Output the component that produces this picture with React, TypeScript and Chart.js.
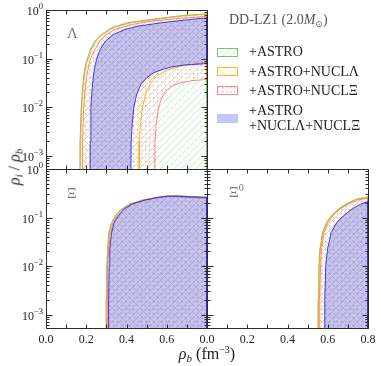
import React, { useEffect, useRef } from 'react';
import { Chart, registerables } from 'chart.js';

Chart.register(...registerables);

const WIDTH = 381;
const HEIGHT = 366;
const X_MIN = 0;
const X_MAX = 0.8;
const Y_MIN = 5.3e-4;
const Y_MAX = 1;
const FLOOR = 1e-5; // stands for "below the plotted range"

// ---- tick definitions ----
const xTicks = [0, 0.1, 0.2, 0.3, 0.4, 0.5, 0.6, 0.7, 0.8];
const xLabelTicks = [0, 0.2, 0.4, 0.6, 0.8];
const xLabelsLeft = ['0.0', '0.2', '0.4', '0.6', ''];
const xLabelsRight = ['0.0', '0.2', '0.4', '0.6', '0.8'];
const yMajorTicks = [1, 0.1, 0.01, 0.001];
const yExponents = ['0', '\u22121', '\u22122', '\u22123'];
const yMinorMultipliers = [2, 3, 4, 5, 6, 7, 8, 9];

// ---- legend text ----
const legendNames = ['+ASTRO', '+ASTRO+NUCL\u039b', '+ASTRO+NUCL\u039e', '+ASTRO\n+NUCL\u039b+NUCL\u039e'];

// ---- Lambda panel: [rho_b, rho_i/rho_b] ----
const lamAstroUpper = [[0.168, 1e-4], [0.169, 0.0019], [0.175, 0.0095], [0.180, 0.021], [0.188, 0.046], [0.197, 0.075], [0.207, 0.103], [0.221, 0.153], [0.243, 0.23], [0.273, 0.31], [0.326, 0.43], [0.408, 0.55], [0.524, 0.64], [0.656, 0.75], [0.80, 0.84]];
const lamAstroLower = null;
const lamNuclLamUpper = [[0.171, 1e-4], [0.172, 0.0019], [0.177, 0.0095], [0.183, 0.021], [0.191, 0.046], [0.200, 0.075], [0.211, 0.103], [0.226, 0.153], [0.249, 0.23], [0.280, 0.31], [0.334, 0.43], [0.418, 0.54], [0.534, 0.63], [0.665, 0.74], [0.80, 0.82]];
const lamNuclLamLower = [[0.463, 1e-4], [0.464, 0.0019], [0.469, 0.0043], [0.479, 0.0095], [0.494, 0.0179], [0.516, 0.0289], [0.540, 0.0396], [0.574, 0.0503], [0.623, 0.0619], [0.689, 0.0726], [0.80, 0.0837]];
const lamNuclXiUpper = [[0.180, 1e-4], [0.182, 0.0019], [0.187, 0.0095], [0.193, 0.021], [0.203, 0.046], [0.213, 0.075], [0.223, 0.103], [0.243, 0.153], [0.268, 0.23], [0.301, 0.31], [0.342, 0.397], [0.425, 0.50], [0.524, 0.59], [0.656, 0.67], [0.80, 0.74]];
const lamNuclXiLower = [[0.540, 1e-4], [0.542, 0.0019], [0.547, 0.0043], [0.559, 0.0095], [0.574, 0.0153], [0.593, 0.021], [0.623, 0.0267], [0.664, 0.0313], [0.722, 0.0349], [0.80, 0.0372]];
const lamAllUpper = [[0.218, 1e-4], [0.220, 0.0019], [0.223, 0.0095], [0.228, 0.021], [0.236, 0.046], [0.245, 0.075], [0.253, 0.103], [0.269, 0.153], [0.296, 0.23], [0.334, 0.31], [0.392, 0.397], [0.458, 0.466], [0.574, 0.546], [0.689, 0.62], [0.80, 0.69]];
const lamAllLower = [[0.421, 1e-4], [0.423, 0.0019], [0.428, 0.0043], [0.436, 0.0095], [0.450, 0.0179], [0.471, 0.0289], [0.499, 0.0396], [0.532, 0.0503], [0.574, 0.059], [0.623, 0.067], [0.689, 0.0736], [0.80, 0.0785]];

// ---- Xi- panel ----
const xiAstroUpper = [[0.298, 1e-4], [0.299, 0.00207], [0.302, 0.0101], [0.306, 0.0223], [0.312, 0.0491], [0.326, 0.079], [0.344, 0.108], [0.374, 0.149], [0.415, 0.189], [0.478, 0.228], [0.549, 0.259], [0.598, 0.276], [0.656, 0.28], [0.722, 0.27], [0.80, 0.262]];
const xiNuclLamUpper = [[0.300, 1e-4], [0.301, 0.00207], [0.304, 0.0101], [0.308, 0.0223], [0.315, 0.0491], [0.329, 0.079], [0.348, 0.108], [0.378, 0.149], [0.419, 0.189], [0.482, 0.228], [0.552, 0.259], [0.600, 0.276], [0.656, 0.278], [0.722, 0.268], [0.80, 0.258]];
const xiNuclXiUpper = [[0.304, 1e-4], [0.305, 0.00207], [0.308, 0.0101], [0.312, 0.0223], [0.320, 0.0491], [0.334, 0.079], [0.353, 0.108], [0.383, 0.149], [0.423, 0.189], [0.486, 0.228], [0.554, 0.259], [0.602, 0.272], [0.656, 0.27], [0.722, 0.258], [0.80, 0.247]];
const xiAllUpper = [[0.309, 1e-4], [0.311, 0.00207], [0.314, 0.0101], [0.317, 0.0223], [0.326, 0.0491], [0.339, 0.079], [0.359, 0.108], [0.388, 0.149], [0.428, 0.189], [0.491, 0.228], [0.557, 0.259], [0.607, 0.276], [0.656, 0.276], [0.722, 0.267], [0.80, 0.259]];

// ---- Xi0 panel ----
const xi0AstroUpper = [[0.551, 1e-4], [0.552, 0.00207], [0.556, 0.0101], [0.561, 0.0223], [0.574, 0.0491], [0.594, 0.079], [0.617, 0.108], [0.653, 0.149], [0.691, 0.189], [0.741, 0.239], [0.80, 0.267]];
const xi0NuclLamUpper = [[0.553, 1e-4], [0.554, 0.00207], [0.558, 0.0101], [0.563, 0.0223], [0.576, 0.0491], [0.596, 0.079], [0.619, 0.108], [0.655, 0.149], [0.693, 0.189], [0.743, 0.236], [0.80, 0.262]];
const xi0NuclXiUpper = [[0.559, 1e-4], [0.560, 0.00207], [0.564, 0.0101], [0.569, 0.0223], [0.582, 0.0491], [0.602, 0.079], [0.625, 0.108], [0.661, 0.149], [0.699, 0.189], [0.748, 0.229], [0.80, 0.25]];
const xi0AllUpper = [[0.584, 1e-4], [0.585, 0.00207], [0.590, 0.0101], [0.599, 0.0223], [0.617, 0.0491], [0.645, 0.079], [0.677, 0.108], [0.720, 0.149], [0.763, 0.189], [0.80, 0.211]];

// ---- styles (green hatch, orange hatch, red dots, blue solid) ----
const STYLES = [
  { border: 'rgba(60,170,60,0.7)', kind: 'hatch', dir: 1, color: 'rgba(90,185,90,0.33)' },
  { border: 'rgba(255,165,0,0.8)', kind: 'hatch', dir: -1, color: 'rgba(255,180,50,0.38)' },
  { border: 'rgba(255,85,85,0.7)', kind: 'dots', dir: 0, color: 'rgba(255,100,100,0.42)' },
  { border: 'rgba(35,35,220,0.85)', kind: 'solid', dir: 0, color: 'rgba(75,75,235,0.32)' },
];

const PANELS = {
  lam: { l: 46, t: 10, r: 207, b: 169 },
  xi: { l: 46, t: 169, r: 207, b: 328 },
  xi0: { l: 207, t: 169, r: 368, b: 328 },
};

const SERIF = '"Liberation Serif", "DejaVu Serif", serif';

function makeFill(style: any): any {
  if (style.kind === 'solid') return style.color;
  const s = style.kind === 'dots' ? 4 : 7;
  const c = document.createElement('canvas');
  c.width = s;
  c.height = s;
  const g = c.getContext('2d')!;
  if (style.kind === 'dots') {
    g.fillStyle = style.color;
    g.fillRect(1, 1, 1.4, 1.4);
  } else {
    g.strokeStyle = style.color;
    g.lineWidth = 1;
    g.beginPath();
    if (style.dir > 0) {
      g.moveTo(-1, s + 1); g.lineTo(s + 1, -1);
      g.moveTo(-2, 2); g.lineTo(2, -2);
      g.moveTo(s - 2, s + 2); g.lineTo(s + 2, s - 2);
    } else {
      g.moveTo(-1, -1); g.lineTo(s + 1, s + 1);
      g.moveTo(s - 2, -2); g.lineTo(s + 2, 2);
      g.moveTo(-2, s - 2); g.lineTo(2, s + 2);
    }
    g.stroke();
  }
  return g.createPattern(c, 'repeat');
}

function polygon(upper: number[][], lower: number[][] | null) {
  const pts = upper.map(([x, y]) => ({ x, y }));
  if (lower) {
    for (let i = lower.length - 1; i >= 0; i--) pts.push({ x: lower[i][0], y: lower[i][1] });
  } else {
    pts.push({ x: upper[upper.length - 1][0], y: FLOOR });
    pts.push({ x: upper[0][0], y: FLOOR });
  }
  return pts;
}

function axesPlugin(showY: boolean, xLabels: string[] | null) {
  return {
    id: 'panelAxes',
    afterDraw(chart: any) {
      const { ctx, chartArea: a } = chart;
      const xs = chart.scales.x;
      const ys = chart.scales.y;
      const L = Math.round(a.left) + 0.5;
      const R = Math.round(a.right) + 0.5;
      const T = Math.round(a.top) + 0.5;
      const B = Math.round(a.bottom) + 0.5;
      ctx.save();
      ctx.strokeStyle = '#2b2b2b';
      ctx.lineWidth = 1;
      ctx.beginPath();
      ctx.rect(L, T, R - L, B - T);
      for (const v of xTicks) {
        const px = Math.round(xs.getPixelForValue(v)) + 0.5;
        ctx.moveTo(px, B); ctx.lineTo(px, B - 4);
        ctx.moveTo(px, T); ctx.lineTo(px, T + 4);
      }
      for (const d of [1e-4, 1e-3, 1e-2, 1e-1, 1]) {
        for (const m of [1, ...yMinorMultipliers]) {
          const v = m * d;
          if (v < Y_MIN || v > Y_MAX * 1.0001) continue;
          const len = m === 1 ? 6 : 3;
          const py = Math.round(ys.getPixelForValue(v)) + 0.5;
          ctx.moveTo(L, py); ctx.lineTo(L + len, py);
          ctx.moveTo(R, py); ctx.lineTo(R - len, py);
        }
      }
      ctx.stroke();
      ctx.fillStyle = '#222';
      if (showY) {
        yMajorTicks.forEach((v, i) => {
          const py = ys.getPixelForValue(v);
          ctx.font = `8.5px ${SERIF}`;
          const ew = ctx.measureText(yExponents[i]).width;
          const xr = a.left - 3;
          ctx.textAlign = 'left';
          ctx.textBaseline = 'middle';
          ctx.fillText(yExponents[i], xr - ew, py - 3);
          ctx.font = `12px ${SERIF}`;
          ctx.textAlign = 'right';
          ctx.fillText('10', xr - ew, py + 2);
        });
      }
      if (xLabels) {
        ctx.font = `12px ${SERIF}`;
        ctx.textAlign = 'center';
        ctx.textBaseline = 'middle';
        xLabelTicks.forEach((v, i) => {
          if (!xLabels[i]) return;
          ctx.fillText(xLabels[i], xs.getPixelForValue(v), a.bottom + 12);
        });
      }
      ctx.restore();
    },
  };
}

function makeChart(canvas: HTMLCanvasElement, panel: any, bands: any[], fills: any[], showY: boolean, xLabels: string[] | null) {
  const datasets = bands.map((band, i) => ({
    data: polygon(band[0], band[1]),
    fill: 'shape',
    backgroundColor: fills[i],
    borderColor: STYLES[i].border,
    borderWidth: 1,
    pointRadius: 0,
    tension: 0,
    clip: 0,
    order: bands.length - 1 - i,
  }));
  return new Chart(canvas, {
    type: 'line',
    data: { datasets } as any,
    options: {
      responsive: false,
      animation: false,
      devicePixelRatio: 1,
      events: [],
      layout: { padding: { left: panel.l, top: panel.t, right: WIDTH - panel.r, bottom: HEIGHT - panel.b } },
      scales: {
        x: { type: 'linear', min: X_MIN, max: X_MAX, display: false },
        y: { type: 'logarithmic', min: Y_MIN, max: Y_MAX, display: false },
      },
      plugins: { legend: { display: false }, tooltip: { enabled: false }, title: { display: false } },
    } as any,
    plugins: [axesPlugin(showY, xLabels)],
  });
}

const abs = (extra: any): any => ({ position: 'absolute', whiteSpace: 'nowrap', fontFamily: SERIF, ...extra });

export default function App() {
  const c1 = useRef<HTMLCanvasElement>(null);
  const c2 = useRef<HTMLCanvasElement>(null);
  const c3 = useRef<HTMLCanvasElement>(null);
  const sw0 = useRef<HTMLCanvasElement>(null);
  const sw1 = useRef<HTMLCanvasElement>(null);
  const sw2 = useRef<HTMLCanvasElement>(null);
  const sw3 = useRef<HTMLCanvasElement>(null);

  useEffect(() => {
    const fills = STYLES.map(makeFill);
    const charts = [
      makeChart(c1.current!, PANELS.lam, [
        [lamAstroUpper, lamAstroLower],
        [lamNuclLamUpper, lamNuclLamLower],
        [lamNuclXiUpper, lamNuclXiLower],
        [lamAllUpper, lamAllLower],
      ], fills, true, null),
      makeChart(c2.current!, PANELS.xi, [
        [xiAstroUpper, null],
        [xiNuclLamUpper, null],
        [xiNuclXiUpper, null],
        [xiAllUpper, null],
      ], fills, true, xLabelsLeft),
      makeChart(c3.current!, PANELS.xi0, [
        [xi0AstroUpper, null],
        [xi0NuclLamUpper, null],
        [xi0NuclXiUpper, null],
        [xi0AllUpper, null],
      ], fills, false, xLabelsRight),
    ];
    [sw0, sw1, sw2, sw3].forEach((r, i) => {
      const cv = r.current!;
      const g = cv.getContext('2d')!;
      g.clearRect(0, 0, cv.width, cv.height);
      g.fillStyle = fills[i];
      g.fillRect(0, 0, cv.width, cv.height);
      g.strokeStyle = STYLES[i].kind === 'solid' ? 'rgba(0,0,0,0)' : STYLES[i].border;
      g.lineWidth = 1;
      g.strokeRect(0.5, 0.5, cv.width - 1, cv.height - 1);
    });
    return () => charts.forEach((c) => c.destroy());
  }, []);

  const canvasStyle: any = { position: 'absolute', left: 0, top: 0 };
  const swTops = [48, 67, 86, 114];
  const textCenters = [52, 72, 91];

  return (
    <div style={{ position: 'absolute', left: 0, top: 0, width: WIDTH, height: HEIGHT, background: '#fff', overflow: 'hidden' }}>
      <canvas ref={c1} width={WIDTH} height={HEIGHT} style={canvasStyle} />
      <canvas ref={c2} width={WIDTH} height={HEIGHT} style={canvasStyle} />
      <canvas ref={c3} width={WIDTH} height={HEIGHT} style={canvasStyle} />

      {/* panel labels */}
      <div style={abs({ left: 67, top: 33, transform: 'translateY(-50%)', fontSize: 15, color: '#777', lineHeight: '16px' })}>{'\u039b'}</div>
      <div style={abs({ left: 67, top: 193, transform: 'translateY(-50%)', fontSize: 15, color: '#777', lineHeight: '16px' })}>{'\u039e'}</div>
      <div style={abs({ left: 229, top: 193, transform: 'translateY(-50%)', fontSize: 15, color: '#777', lineHeight: '16px' })}>
        {'\u039e'}<span style={{ fontSize: 10, position: 'relative', top: -6 }}>0</span>
      </div>

      {/* legend */}
      <div style={abs({ left: 229, top: 20, transform: 'translateY(-50%)', fontSize: 14, color: '#555', lineHeight: '16px' })}>
        DD-LZ1 (2.0<i>M</i><span style={{ fontSize: 9, position: 'relative', top: 3 }}>{'\u2299'}</span>)
      </div>
      {[sw0, sw1, sw2, sw3].map((r, i) => (
        <canvas key={i} ref={r} width={21} height={9} style={{ position: 'absolute', left: 217, top: swTops[i] }} />
      ))}
      {legendNames.slice(0, 3).map((t, i) => (
        <div key={t} style={abs({ left: 249, top: textCenters[i], transform: 'translateY(-50%)', fontSize: 14, color: '#222', lineHeight: '16px' })}>{t}</div>
      ))}
      <div style={abs({ left: 249, top: 118, transform: 'translateY(-50%)', fontSize: 14, color: '#222', lineHeight: '15px', whiteSpace: 'pre' })}>{legendNames[3]}</div>

      {/* axis titles */}
      <div style={abs({ left: 15, top: 167, transform: 'translate(-50%, -50%) rotate(-90deg)', fontSize: 16, color: '#222', lineHeight: '18px' })}>
        <i>{'\u03c1'}</i><span style={{ fontSize: 11, position: 'relative', top: 3 }}><i>i</i></span> / <i>{'\u03c1'}</i><span style={{ fontSize: 11, position: 'relative', top: 3 }}><i>b</i></span>
      </div>
      <div style={abs({ left: 207, top: 355, transform: 'translate(-50%, -50%)', fontSize: 16, color: '#222', lineHeight: '18px' })}>
        <i>{'\u03c1'}</i><span style={{ fontSize: 11, position: 'relative', top: 3 }}><i>b</i></span> (fm<span style={{ fontSize: 10, position: 'relative', top: -6 }}>{'\u22123'}</span>)
      </div>
    </div>
  );
}
